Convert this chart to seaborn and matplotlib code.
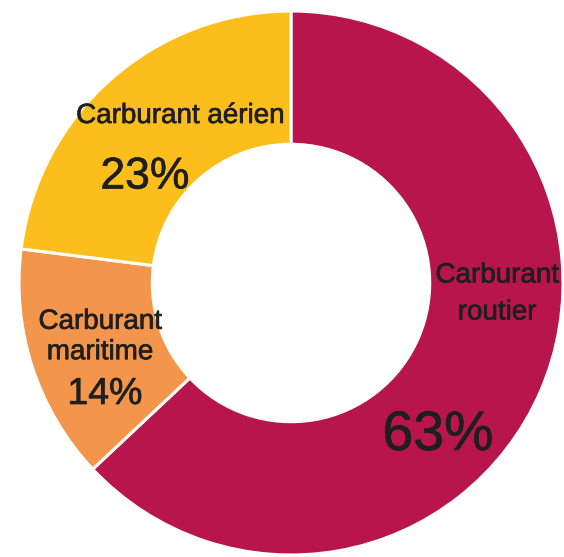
import matplotlib
matplotlib.use("Agg")
import matplotlib.pyplot as plt
import matplotlib.patheffects as pe
import seaborn as sns

categories = ["Carburant\nroutier", "Carburant\nmaritime", "Carburant aérien"]
values = [63, 14, 23]
pct_labels = ["63%", "14%", "23%"]
colors = ["#B7154B", "#F3954A", "#FBBE1B"]

sns.set_theme(style="white")
plt.rcParams['font.family'] = ['Liberation Sans', 'DejaVu Sans']

W, H = 564, 557
fig = plt.figure(figsize=(W / 100, H / 100), dpi=100)
ax = fig.add_axes([0, 0, 1, 1])

cx, cy, R = 291, 283, 272
wedges, _ = ax.pie(values, colors=colors, startangle=90, counterclock=False,
                   radius=1.0, wedgeprops=dict(width=0.49, edgecolor="white", linewidth=2.2))
ax.set_aspect('auto')
ax.set_xlim(-cx / R, (W - cx) / R)
ax.set_ylim(-(H - cy) / R, cy / R)
ax.axis('off')


def P(px, py):
    return (px - cx) / R, (cy - py) / R


tc = "#1f1f1f"
fx = [pe.withStroke(linewidth=0.5, foreground=tc)]
cat_pos = [(497, 294, 1.55), (100, 337, 1.22), (180, 116, 1.2)]
pct_pos = [(438, 436, 40), (105, 394, 27), (145, 177, 32)]
for cat, (px, py, ls) in zip(categories, cat_pos):
    x, y = P(px, py)
    ax.text(x, y, cat, ha="center", va="center", fontsize=20, color=tc,
            linespacing=ls, path_effects=fx)
for pct, (px, py, fs) in zip(pct_labels, pct_pos):
    x, y = P(px, py)
    ax.text(x, y, pct, ha="center", va="center", fontsize=fs, color=tc,
            path_effects=fx)

fig.savefig("out.png", dpi=100)
